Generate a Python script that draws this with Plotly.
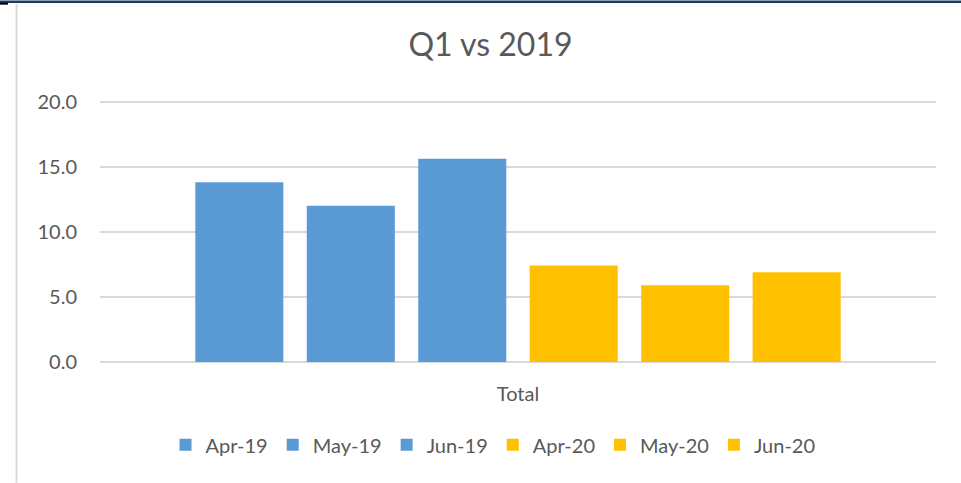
import plotly.graph_objects as go

categories = ["Total"]
series_names = ["Apr-19", "May-19", "Jun-19", "Apr-20", "May-20", "Jun-20"]
series_values = [13.8, 12.0, 15.6, 7.4, 5.9, 6.9]
series_colors = ["#5B9BD5", "#5B9BD5", "#5B9BD5", "#FFC000", "#FFC000", "#FFC000"]
y_tick_vals = [0, 5, 10, 15, 20]
y_tick_text = ["0.0", "5.0", "10.0", "15.0", "20.0"]

W, H = 961, 483
PX_PER_UNIT = 13.04
YMAX = 20.5
L, R, B = 100, 25, 121
T = round(101 - (YMAX - 20) * PX_PER_UNIT, 1)
pw, ph = W - L - R, H - T - B

def px_x(x):
    return (x - L) / pw

def px_y(y):
    return (H - B - y) / ph

FONT = "Lato, 'Open Sans', sans-serif"
TXT = "#595959"

fig = go.Figure()
for name, val, col in zip(series_names, series_values, series_colors):
    fig.add_trace(go.Bar(x=categories, y=[val], name=name, marker=dict(color=col, line=dict(width=0))))

fig.update_layout(
    width=W, height=H,
    margin=dict(l=L, r=R, t=T, b=B, autoexpand=False),
    paper_bgcolor="white", plot_bgcolor="white",
    barmode="group", bargap=0.2, bargroupgap=0.21,
    font=dict(family=FONT, color=TXT, size=20),
    title=dict(text="Q1 vs 2019", x=490.5 / W, xref="container", xanchor="center",
               y=1 - 45 / H, yref="container", yanchor="middle",
               font=dict(size=32, color=TXT, family=FONT)),
    showlegend=True,
    legend=dict(orientation="h", x=px_x(493), xanchor="center", y=px_y(445), yanchor="middle",
                font=dict(size=20, color=TXT), itemwidth=30, traceorder="normal", bgcolor="rgba(0,0,0,0)"),
    xaxis=dict(type="category", range=[-0.5, 0.5], showgrid=False, zeroline=False, showline=False,
               ticks="", ticklabelstandoff=18, tickfont=dict(size=20, color=TXT)),
    yaxis=dict(range=[0, YMAX], tickvals=y_tick_vals, ticktext=y_tick_text, showgrid=True,
               gridcolor="#D9D9D9", gridwidth=1.5, zeroline=True, zerolinecolor="#D9D9D9", zerolinewidth=1.5,
               showline=False, ticks="", ticklabelstandoff=22, tickfont=dict(size=20, color=TXT)),
    shapes=[
        dict(type="line", xref="paper", yref="paper", x0=px_x(0), x1=px_x(W), y0=px_y(1), y1=px_y(1),
             line=dict(color="#1F3864", width=2.5)),
        dict(type="line", xref="paper", yref="paper", x0=px_x(16.5), x1=px_x(16.5), y0=px_y(3), y1=px_y(H),
             line=dict(color="#D9D9D9", width=2)),
        dict(type="line", xref="paper", yref="paper", x0=px_x(0), x1=px_x(8), y0=px_y(3), y1=px_y(3),
             line=dict(color="#000000", width=2)),
    ],
)

fig.write_html("out.html", config={"displayModeBar": False},
               post_script="document.body.style.margin='0';document.body.style.overflow='hidden';")
